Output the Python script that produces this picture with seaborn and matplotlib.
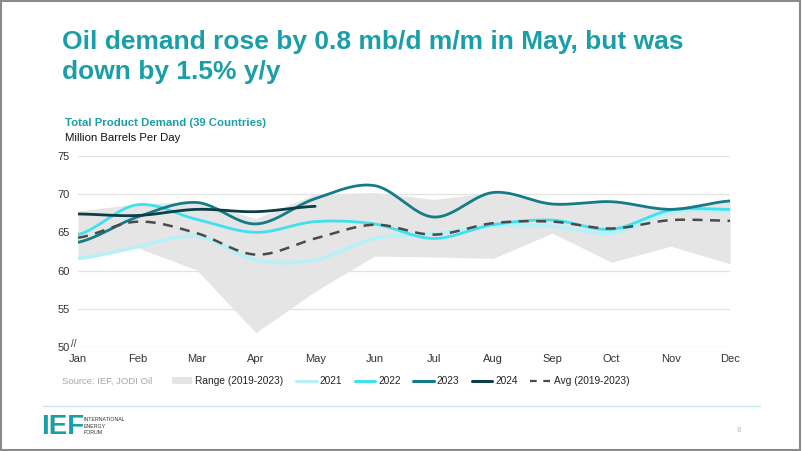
import numpy as np
import pandas as pd
import seaborn as sns
import matplotlib.pyplot as plt
from matplotlib.patches import Patch, Rectangle
from matplotlib.lines import Line2D

months = ['Jan', 'Feb', 'Mar', 'Apr', 'May', 'Jun', 'Jul', 'Aug', 'Sep', 'Oct', 'Nov', 'Dec']

range_low = [61.5, 63.0, 60.1, 51.9, 57.3, 61.9, 61.8, 61.6, 64.9, 61.1, 63.2, 60.9]
range_high = [67.8, 68.7, 69.0, 66.8, 70.0, 70.2, 69.3, 70.2, 68.8, 69.0, 68.2, 69.2]

y2021 = [61.6, 63.1, 64.5, 61.4, 61.4, 64.2, 64.8, 65.8, 65.8, 64.9, 67.6, 67.8]
y2022 = [64.7, 68.6, 66.7, 65.0, 66.4, 66.1, 64.2, 66.0, 66.6, 65.4, 67.9, 68.0]
y2023 = [63.7, 67.0, 68.9, 66.1, 69.4, 71.1, 67.0, 70.2, 68.7, 69.0, 68.0, 69.1]
y2024 = [67.4, 67.2, 68.0, 67.7, 68.4]
avg = [64.3, 66.4, 64.9, 62.1, 64.2, 66.0, 64.7, 66.2, 66.4, 65.5, 66.6, 66.5]

TEAL = '#1a9fa8'


def smooth(vals, n=24):
    # catmull-rom, close to excel's "smoothed line"
    v = np.asarray(vals, dtype=float)
    p = np.concatenate([[v[0]], v, [v[-1]]])
    xs, ys = [], []
    for i in range(len(v) - 1):
        p0, p1, p2, p3 = p[i], p[i + 1], p[i + 2], p[i + 3]
        t = np.linspace(0, 1, n, endpoint=False)
        yy = 0.5 * (2 * p1 + (-p0 + p2) * t + (2 * p0 - 5 * p1 + 4 * p2 - p3) * t ** 2
                    + (-p0 + 3 * p1 - 3 * p2 + p3) * t ** 3)
        xs.extend(i + t)
        ys.extend(yy)
    xs.append(len(v) - 1)
    ys.append(v[-1])
    return pd.DataFrame({'x': xs, 'y': ys})


sns.set_style('white')
plt.rcParams['font.family'] = ['Liberation Sans', 'DejaVu Sans']

fig = plt.figure(figsize=(8.02, 4.51), dpi=100)
ax = fig.add_axes([0.0973, 0.2299, 0.8130, 0.4248])

x = np.arange(len(months))
ax.fill_between(x, range_low, range_high, color='#e5e5e5', lw=0, zorder=1)

series = [
    (y2021, '#b5f1f6', 2.6),
    (y2022, '#3fe0ef', 2.0),
    (y2023, '#137c86', 2.0),
    (y2024, '#0c3e48', 2.0),
]
for vals, col, lw in series:
    sns.lineplot(data=smooth(vals), x='x', y='y', ax=ax, color=col, lw=lw, zorder=3)
sns.lineplot(data=smooth(avg), x='x', y='y', ax=ax, color='#4a4a4a', lw=1.8, zorder=4)
ax.lines[-1].set_dashes([4, 3])

ax.set_xlim(0, 11)
ax.set_ylim(50, 75)
ax.set_yticks(range(50, 76, 5))
ax.set_xticks(x)
ax.set_xticklabels(months)
ax.grid(axis='y', color='#e2e2e2', lw=0.9)
ax.set_axisbelow(True)
for s in ax.spines.values():
    s.set_visible(False)
ax.tick_params(axis='both', length=0, labelsize=8, colors='#333333')
ax.tick_params(axis='y', pad=6)
ax.tick_params(axis='x', pad=5)
ax.set_xlabel('')
ax.set_ylabel('')
ax.text(-0.006, 50.4, '//', transform=ax.get_yaxis_transform(), ha='center', va='center',
        fontsize=7, color='#333333')

# title block
fig.text(62 / 802, 1 - 42 / 451, 'Oil demand rose by 0.8 mb/d m/m in May, but was',
         fontsize=19, fontweight='bold', color=TEAL, va='center')
fig.text(62 / 802, 1 - 72 / 451, 'down by 1.5% y/y',
         fontsize=19, fontweight='bold', color=TEAL, va='center')
fig.text(65 / 802, 1 - 123 / 451, 'Total Product Demand (39 Countries)',
         fontsize=8.2, fontweight='bold', color=TEAL, va='center')
fig.text(65 / 802, 1 - 138 / 451, 'Million Barrels Per Day',
         fontsize=8.2, color='#111111', va='center')

# legend + source
fig.text(62 / 802, 1 - 381 / 451, 'Source: IEF, JODI Oil', fontsize=6.8, color='#a6a6a6',
         va='center')
handles = [
    Patch(facecolor='#e5e5e5', edgecolor='none'),
    Line2D([], [], color='#b5f1f6', lw=2.2),
    Line2D([], [], color='#3fe0ef', lw=2.2),
    Line2D([], [], color='#137c86', lw=2.2),
    Line2D([], [], color='#0c3e48', lw=2.2),
    Line2D([], [], color='#4a4a4a', lw=1.6, dashes=[3, 3]),
]
labels = ['Range (2019-2023)', '2021', '2022', '2023', '2024', 'Avg (2019-2023)']
fig.legend(handles, labels, loc='center left', bbox_to_anchor=(163 / 802, 1 - 381 / 451),
           ncol=6, frameon=False, fontsize=7.3, handlelength=2.0, handletextpad=0.3,
           columnspacing=1.25, handleheight=0.6, labelcolor='#222222')

# footer
fig.add_artist(Line2D([43 / 802, 760 / 802], [1 - 406 / 451] * 2, color='#c3e8ec', lw=1))
fig.text(41 / 802, 1 - 427 / 451, 'IEF', fontsize=20, fontweight='bold', color=TEAL,
         va='center', family=['Liberation Sans Narrow', 'Liberation Sans'])
fig.text(84 / 802, 1 - 426 / 451, 'INTERNATIONAL\nENERGY\nFORUM', fontsize=3.8,
         color='#333333', va='center', linespacing=1.3)
fig.text(737 / 802, 1 - 430 / 451, '8', fontsize=6, color='#bbbbbb', va='center')

fig.add_artist(Rectangle((0.001, 0.002), 0.997, 0.995, transform=fig.transFigure,
                         fill=False, edgecolor='#8a8a8a', lw=1.5))

fig.savefig('out.png', dpi=100)
